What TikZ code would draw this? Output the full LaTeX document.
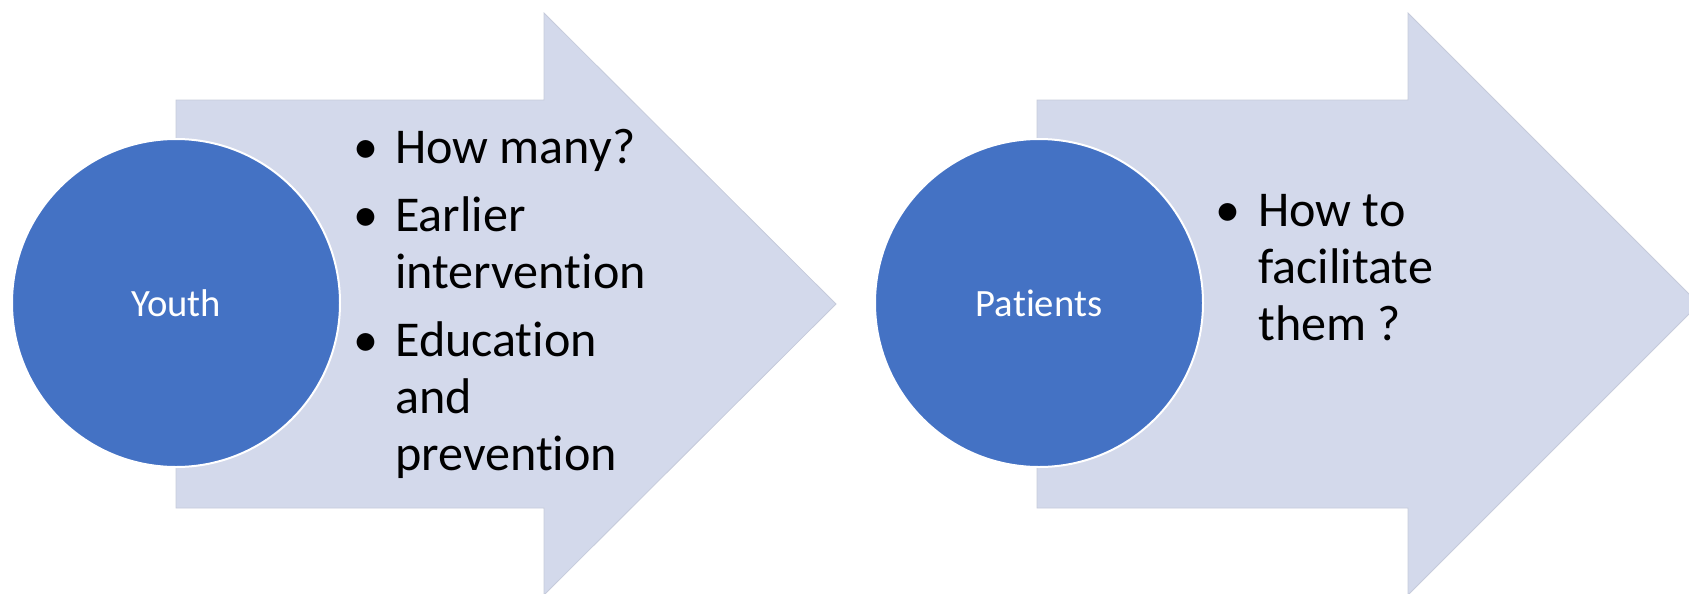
\documentclass[tikz,border=0pt]{standalone}
\usepackage{fontspec}
\setmainfont[Ligatures={NoCommon}]{Carlito}

\definecolor{circblue}{RGB}{68,114,196}
\definecolor{arrowfill}{RGB}{211,217,235}
\definecolor{arrowedge}{RGB}{198,203,219}

\tikzset{
    bigarrow/.style={fill=arrowfill, draw=arrowedge, line width=0.6pt},
    topic/.style={circle, fill=circblue, draw=white, line width=1.5pt, minimum size=246pt, inner sep=0pt, text=white, font=\fontsize{29}{35}\selectfont},
    bullettext/.style={anchor=base west, inner sep=0pt, font=\fontsize{37.6}{43}\selectfont},
    bulletdot/.style={anchor=base, inner sep=0pt, font=\fontsize{37.6}{43}\selectfont}
}

\begin{document}
\begin{tikzpicture}[x=0.75pt,y=0.75pt,yscale=-1,xscale=1]
    \useasboundingbox (0,0) rectangle (1689,593);
    \clip (0,0) rectangle (1689,593);
    %Shape: Right Arrow [Youth]
    \draw [bigarrow] (176,100) -- (544,100) -- (544,13) -- (836,304) -- (544,595) -- (544,508) -- (176,508) -- cycle ;
    %Shape: Right Arrow [Patients]
    \draw [bigarrow] (1037,100) -- (1408,100) -- (1408,13) -- (1699,304) -- (1408,595) -- (1408,508) -- (1037,508) -- cycle ;

    %Shape: Circle
    \node [topic] (youth) at (176,303) {Youth};
    %Shape: Circle
    \node [topic] (patients) at (1039,303) {Patients};

    % Bullets
    \node [bulletdot] (b1) at (366,163) {•};
    \node [bulletdot] (b2) at (366,231) {•};
    \node [bulletdot] (b3) at (366,356) {•};
    \node [bulletdot] (b4) at (1228,226) {•};

    % Text Node
    \node [bullettext] (howmany) at (395,163) {How many?};
    % Text Node
    \node [bullettext] (earlier) at (395,231) {Earlier};
    % Text Node
    \node [bullettext] (interv) at (395,288) {intervention};
    % Text Node
    \node [bullettext] (educ) at (395,356) {Education};
    % Text Node
    \node [bullettext] (and) at (395,413) {and};
    % Text Node
    \node [bullettext] (prev) at (395,470) {prevention};
    % Text Node
    \node [bullettext] (howto) at (1258,226) {How to};
    % Text Node
    \node [bullettext] (facil) at (1258,283) {facilitate};
    % Text Node
    \node [bullettext] (them) at (1258,340) {them ?};
\end{tikzpicture}
\end{document}
